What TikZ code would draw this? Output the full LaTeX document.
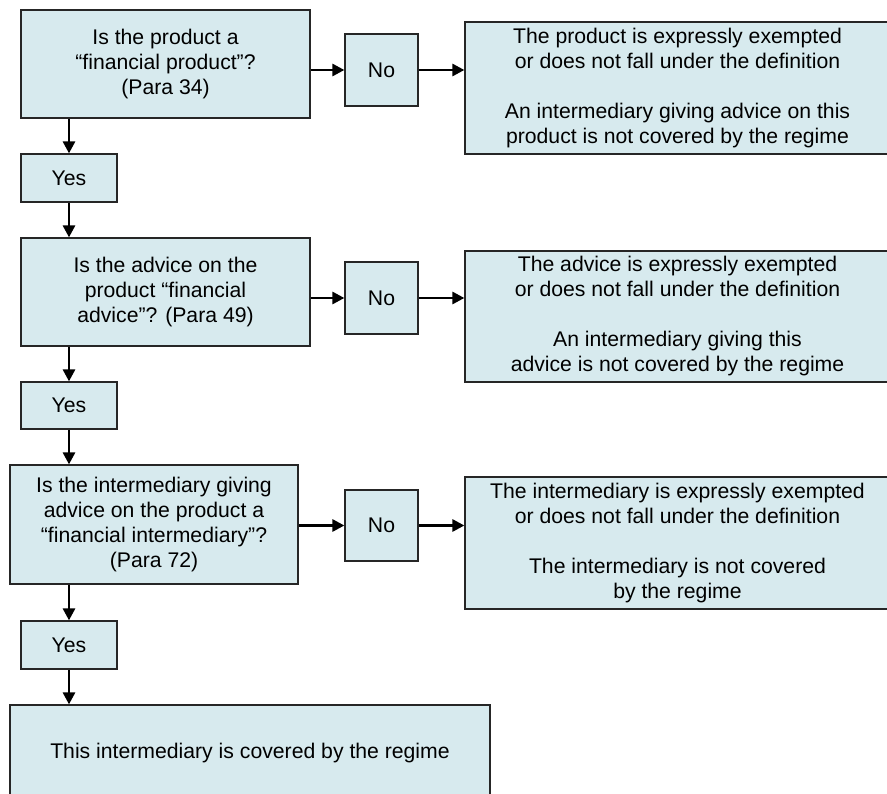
\documentclass[tikz,border=0pt]{standalone}
\usepackage{fontspec}
\setmainfont{Liberation Sans}
\usetikzlibrary{arrows.meta, arrows}
\definecolor{boxblue}{RGB}{215,234,238}

\begin{document}
\begin{tikzpicture}[x=1pt, y=-1pt]
\useasboundingbox (0,0) rectangle (887,794);
\begin{scope}[every node/.style={rectangle,draw=black!85,line width=1.2pt,fill=boxblue,
              align=center,inner sep=0pt,font=\fontsize{21.2}{25}\selectfont}]
    \node[minimum width=289pt, minimum height=108pt] (Q1) at (165.5,64) {Is the product a\\ “financial product”?\\ (Para 34)};
    \node[minimum width=73pt, minimum height=72pt] (N1) at (381.5,70) {No};
    \node[minimum width=425pt, minimum height=132pt] (R1) at (677.5,88) {The product is expressly exempted\\ or does not fall under the definition\\[25pt] An intermediary giving advice on this\\ product is not covered by the regime};
    \node[minimum width=96pt, minimum height=48pt] (Y1) at (69,178) {Yes};

    \node[minimum width=289pt, minimum height=108pt] (Q2) at (165.5,292) {Is the advice on the\\ product “financial\\ advice”? (Para 49)};
    \node[minimum width=73pt, minimum height=72pt] (N2) at (381.5,298) {No};
    \node[minimum width=425pt, minimum height=131pt] (R2) at (677.5,316.5) {The advice is expressly exempted\\ or does not fall under the definition\\[25pt] An intermediary giving this\\ advice is not covered by the regime};
    \node[minimum width=96pt, minimum height=47pt] (Y2) at (69,405.5) {Yes};

    \node[minimum width=288pt, minimum height=119pt] (Q3) at (154,524.5) {Is the intermediary giving\\ advice on the product a\\ “financial intermediary”?\\ (Para 72)};
    \node[minimum width=73pt, minimum height=71pt] (N3) at (381.5,525.5) {No};
    \node[minimum width=425pt, minimum height=132pt] (R3) at (677.5,543) {The intermediary is expressly exempted\\ or does not fall under the definition\\[25pt] The intermediary is not covered\\ by the regime};
    \node[minimum width=96pt, minimum height=48pt] (Y3) at (69,645) {Yes};

    \node[minimum width=480pt, minimum height=96pt] (Q4) at (250,753) {This intermediary is covered by the regime};
\end{scope}

\begin{scope}[>={Triangle[length=12pt,width=12pt]},
              every edge/.style={draw=black,line width=2.8pt}]
    \path [->] (Q1.east |- N1) edge (N1);
    \path [->] (N1) edge (N1 -| R1.west);
    \path [->] (Y1 |- Q1.south) edge (Y1);
    \path [->] (Y1) edge (Y1 |- Q2.north);

    \path [->] (Q2.east |- N2) edge (N2);
    \path [->] (N2) edge (N2 -| R2.west);
    \path [->] (Y2 |- Q2.south) edge (Y2);
    \path [->] (Y2) edge (Y2 |- Q3.north);

    \path [->] (Q3.east |- N3) edge (N3);
    \path [->] (N3) edge (N3 -| R3.west);
    \path [->] (Y3 |- Q3.south) edge (Y3);
    \path [->] (Y3) edge (Y3 |- Q4.north);
\end{scope}
\end{tikzpicture}
\end{document}
